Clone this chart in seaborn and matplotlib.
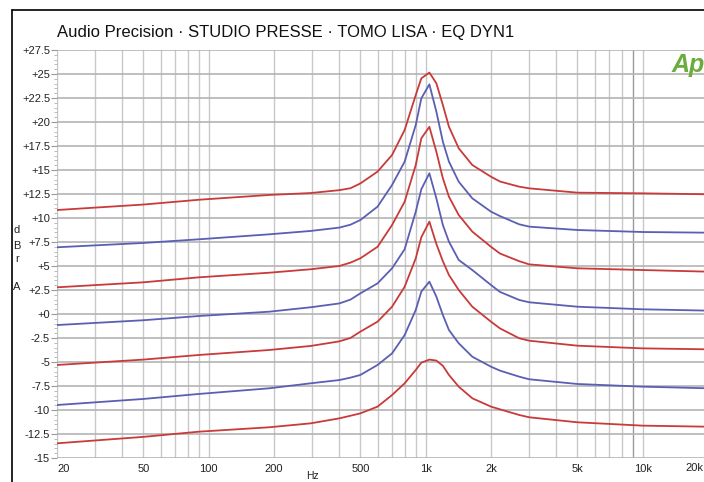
import matplotlib
matplotlib.use("Agg")
import matplotlib.pyplot as plt
import matplotlib.ticker as mticker
from matplotlib.lines import Line2D
import numpy as np
import pandas as pd
import seaborn as sns

# ---------------- data ----------------
freqs = [20, 50, 90, 190, 295, 400, 450, 500, 600, 700, 800, 900, 955, 1040,
         1120, 1200, 1280, 1420, 1640, 2000, 2200, 2700, 3000, 5000, 10000, 20000]

curve1 = [10.83, 11.4, 11.9, 12.4, 12.6, 12.9, 13.1, 13.6, 14.83, 16.56, 19.17, 22.81, 24.55, 25.15,
          24.03, 21.77, 19.51, 17.26, 15.52, 14.3, 13.8, 13.26, 13.09, 12.64, 12.57, 12.47]
curve2 = [6.95, 7.4, 7.78, 8.3, 8.65, 9.0, 9.3, 9.79, 11.18, 13.44, 15.87, 19.69, 22.47, 23.92,
          21.08, 17.95, 15.87, 13.78, 12.05, 10.66, 10.2, 9.34, 9.1, 8.75, 8.54, 8.47]
curve3 = [2.78, 3.3, 3.82, 4.3, 4.66, 5.0, 5.35, 5.8, 7.0, 9.27, 11.7, 15.52, 18.3, 19.5,
          16.9, 14.14, 12.22, 10.31, 8.58, 7.0, 6.3, 5.5, 5.17, 4.76, 4.58, 4.41]
curve4 = [-1.15, -0.65, -0.21, 0.24, 0.7, 1.1, 1.5, 2.15, 3.19, 4.76, 6.75, 10.66, 13.0, 14.66,
          12.05, 9.27, 7.53, 5.63, 4.58, 3.02, 2.3, 1.46, 1.22, 0.76, 0.49, 0.35]
curve5 = [-5.31, -4.75, -4.27, -3.75, -3.33, -2.85, -2.5, -1.84, -0.8, 0.76, 2.84, 5.8, 8.0, 9.62,
          7.3, 5.5, 4.06, 2.5, 0.76, -0.8, -1.5, -2.53, -2.78, -3.3, -3.58, -3.68]
curve6 = [-9.48, -8.85, -8.33, -7.74, -7.22, -6.88, -6.63, -6.35, -5.31, -4.1, -2.19, 0.42, 2.33, 3.37,
          1.81, -0.1, -1.67, -3.05, -4.45, -5.49, -5.9, -6.53, -6.8, -7.29, -7.57, -7.74]
curve7 = [-13.47, -12.8, -12.26, -11.8, -11.39, -10.87, -10.6, -10.35, -9.65, -8.44, -7.22, -5.83, -5.07, -4.75,
          -4.85, -5.4, -6.35, -7.57, -8.78, -9.65, -9.93, -10.52, -10.76, -11.28, -11.63, -11.74]

curve_names = ["c1", "c2", "c3", "c4", "c5", "c6", "c7"]
curve_values = [curve1, curve2, curve3, curve4, curve5, curve6, curve7]

RED = "#c93a3a"
BLUE = "#5b5fb3"
curve_colors = [RED, BLUE, RED, BLUE, RED, BLUE, RED]

y_ticks = [27.5, 25, 22.5, 20, 17.5, 15, 12.5, 10, 7.5, 5, 2.5, 0,
           -2.5, -5, -7.5, -10, -12.5, -15]
y_ticklabels = ["+27.5", "+25", "+22.5", "+20", "+17.5", "+15", "+12.5", "+10",
                "+7.5", "+5", "+2.5", "+0", "-2.5", "-5", "-7.5", "-10", "-12.5", "-15"]
x_ticks = [20, 50, 100, 200, 500, 1000, 2000, 5000, 10000, 20000]
x_ticklabels = ["20", "50", "100", "200", "500", "1k", "2k", "5k", "10k", "20k"]
x_grid = [20, 30, 40, 50, 60, 70, 80, 90,
          100, 200, 300, 400, 500, 600, 700, 800, 900,
          1000, 2000, 3000, 4000, 5000, 6000, 7000, 8000, 9000,
          10000, 20000]

title_text = "Audio Precision \u00b7 STUDIO PRESSE \u00b7 TOMO LISA \u00b7 EQ DYN1"

# ---------------- build long-form table ----------------
rows = []
for name, vals in zip(curve_names, curve_values):
    for f, v in zip(freqs, vals):
        rows.append({"curve": name, "freq": f, "dB": v})
df = pd.DataFrame(rows)

# ---------------- figure ----------------
sns.set_theme(style="white")
plt.rcParams["font.family"] = ["Liberation Sans", "DejaVu Sans"]

W, H = 704, 482
fig = plt.figure(figsize=(W / 100, H / 100), dpi=100)
fig.patch.set_facecolor("white")

left_px, right_px, top_px, bottom_px = 57, 708, 50, 458
ax = fig.add_axes([left_px / W, 1 - bottom_px / H,
                   (right_px - left_px) / W, (bottom_px - top_px) / H])
ax.set_facecolor("white")

ax.set_xscale("log")
ax.set_xlim(20, 20000)
ax.set_ylim(-15, 27.5)

# grid lines
for g in x_grid:
    ax.axvline(g, color="#9a9a9a" if g == 9000 else "#c8c8c8", lw=1.0, zorder=0)
for t in y_ticks:
    ax.axhline(t, color="#b4b4b4", lw=1.2, zorder=0)

sns.lineplot(data=df, x="freq", y="dB", hue="curve", palette=curve_colors,
             estimator=None, sort=False, legend=False, lw=1.3, ax=ax, zorder=3)
for ln in ax.get_lines():
    ln.set_solid_joinstyle("round")

for s in ax.spines.values():
    s.set_visible(False)

ax.xaxis.set_major_locator(mticker.FixedLocator(x_ticks))
ax.xaxis.set_minor_locator(mticker.NullLocator())
ax.set_xticklabels(x_ticklabels[:-1] + [""])
ax.yaxis.set_major_locator(mticker.FixedLocator(y_ticks))
ax.yaxis.set_minor_locator(mticker.MultipleLocator(0.5))
ax.set_yticklabels(y_ticklabels)

ax.tick_params(axis="y", which="major", left=True, length=4, width=0.8,
               color="#9a9a9a", labelsize=8, pad=1, labelcolor="#222222")
ax.tick_params(axis="y", which="minor", left=True, length=2.5, width=0.6,
               color="#b0b0b0")
ax.tick_params(axis="x", which="major", bottom=False, length=0,
               labelsize=8, pad=4, labelcolor="#222222")
xl = ax.get_xticklabels()
xl[0].set_horizontalalignment("left")
ax.set_xlabel("")
ax.set_ylabel("")

# last x label, kept inside the picture
fig.text(703 / W, 1 - 468 / H, x_ticklabels[-1], fontsize=8, ha="right", va="center",
         color="#222222")

# axis labels
fig.text(312 / W, 1 - 476 / H, "Hz", fontsize=7.5, ha="center", va="center", color="#222222")
for ch, ypx in zip(["d", "B", "r", "A"], [230, 246, 259, 287]):
    fig.text(17 / W, 1 - ypx / H, ch, fontsize=8, ha="center", va="center", color="#222222")

# title
fig.text(57 / W, 1 - 32 / H, title_text, fontsize=12, ha="left", va="center", color="#111111")

# Ap logo
fig.text(672 / W, 1 - 65 / H, "Ap", fontsize=18, fontweight="bold", fontstyle="italic",
         ha="left", va="center", color="#6aad3d")

# frame (top and left borders)
fig.add_artist(Line2D([12 / W, 1.0], [1 - 10 / H, 1 - 10 / H], transform=fig.transFigure,
                      color="black", lw=1.2))
fig.add_artist(Line2D([12 / W, 12 / W], [0, 1 - 10 / H], transform=fig.transFigure,
                      color="black", lw=1.2))

fig.savefig("out.png", dpi=100, facecolor="white")
